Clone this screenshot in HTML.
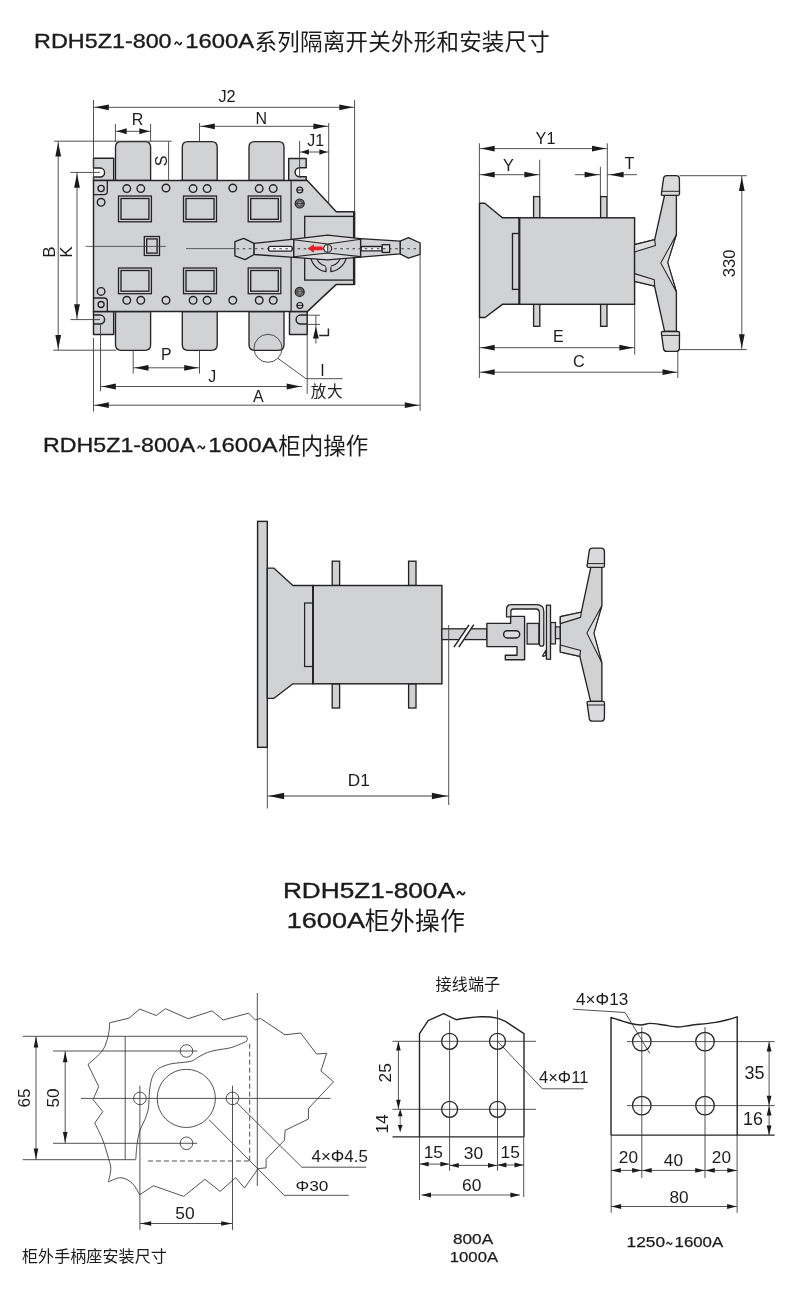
<!DOCTYPE html>
<html><head><meta charset="utf-8"><title>RDH5Z1</title>
<style>
html,body{margin:0;padding:0;background:#fff;}
body{width:790px;height:1289px;overflow:hidden;font-family:"Liberation Sans",sans-serif;}
svg{display:block;}
.sheet{width:790px;height:1289px;will-change:transform;}
svg text{font-family:"Liberation Sans",sans-serif;}
svg text.cjk{font-family:"Liberation Sans","Noto Sans CJK SC",sans-serif;}
</style></head><body>
<div class="sheet">
<svg width="790" height="1289" viewBox="0 0 790 1289">
<text x="34.08" y="48.20" font-size="20.60" fill="#1b1b1b" stroke="#1b1b1b" stroke-width="0.35" textLength="137.53" lengthAdjust="spacingAndGlyphs">RDH5Z1-800</text>
<path d="M175.00,43.97 C176.09,41.42 177.11,41.42 178.20,43.30 S180.31,45.17 181.40,42.62" fill="none" stroke="#1b1b1b" stroke-width="1.60" stroke-linecap="round"/>
<text x="185.19" y="48.20" font-size="20.60" fill="#1b1b1b" stroke="#1b1b1b" stroke-width="0.35" textLength="68.86" lengthAdjust="spacingAndGlyphs">1600A</text>
<text class="cjk" x="254.50" y="50.40" font-size="22.50" fill="#1b1b1b" textLength="295.36" lengthAdjust="spacing">系列隔离开关外形和安装尺寸</text>
<text x="43.00" y="452.20" font-size="20.60" fill="#1b1b1b" stroke="#1b1b1b" stroke-width="0.35" textLength="152.25" lengthAdjust="spacingAndGlyphs">RDH5Z1-800A</text>
<path d="M198.00,447.98 C199.12,445.43 200.18,445.43 201.30,447.30 S203.48,449.18 204.60,446.62" fill="none" stroke="#1b1b1b" stroke-width="1.60" stroke-linecap="round"/>
<text x="208.17" y="452.20" font-size="20.60" fill="#1b1b1b" stroke="#1b1b1b" stroke-width="0.35" textLength="69.37" lengthAdjust="spacingAndGlyphs">1600A</text>
<text class="cjk" x="278.30" y="453.80" font-size="22.50" fill="#1b1b1b" textLength="90.00" lengthAdjust="spacing">柜内操作</text>
<text x="282.95" y="898.40" font-size="22.60" fill="#1b1b1b" stroke="#1b1b1b" stroke-width="0.40" textLength="172.00" lengthAdjust="spacingAndGlyphs">RDH5Z1-800A</text>
<path d="M457.40,893.94 C458.62,891.14 459.78,891.14 461.00,893.20 S463.38,895.26 464.60,892.46" fill="none" stroke="#1b1b1b" stroke-width="1.80" stroke-linecap="round"/>
<text x="286.84" y="927.60" font-size="22.60" fill="#1b1b1b" stroke="#1b1b1b" stroke-width="0.40" textLength="78.11" lengthAdjust="spacingAndGlyphs">1600A</text>
<text class="cjk" x="364.70" y="929.50" font-size="24.70" fill="#1b1b1b" textLength="100.30" lengthAdjust="spacing">柜外操作</text>
<path d="M115.50,180.50 V147.20 Q115.50,141.70 121.00,141.70 H145.10 Q150.60,141.70 150.60,147.20 V180.50 Z" fill="#d1d2d4" stroke="#262324" stroke-width="1.34" stroke-linejoin="round" />
<path d="M115.50,311.60 V344.80 Q115.50,350.30 121.00,350.30 H145.10 Q150.60,350.30 150.60,344.80 V311.60 Z" fill="#d1d2d4" stroke="#262324" stroke-width="1.34" stroke-linejoin="round" />
<path d="M182.30,180.50 V147.20 Q182.30,141.70 187.80,141.70 H211.70 Q217.20,141.70 217.20,147.20 V180.50 Z" fill="#d1d2d4" stroke="#262324" stroke-width="1.34" stroke-linejoin="round" />
<path d="M182.30,311.60 V344.80 Q182.30,350.30 187.80,350.30 H211.70 Q217.20,350.30 217.20,344.80 V311.60 Z" fill="#d1d2d4" stroke="#262324" stroke-width="1.34" stroke-linejoin="round" />
<path d="M249.00,180.50 V147.20 Q249.00,141.70 254.50,141.70 H278.50 Q284.00,141.70 284.00,147.20 V180.50 Z" fill="#d1d2d4" stroke="#262324" stroke-width="1.34" stroke-linejoin="round" />
<path d="M249.00,311.60 V344.80 Q249.00,350.30 254.50,350.30 H278.50 Q284.00,350.30 284.00,344.80 V311.60 Z" fill="#d1d2d4" stroke="#262324" stroke-width="1.34" stroke-linejoin="round" />
<path d="M93.50,158.20 H113.70 V180.50 H93.50 V177.10 H100.10 A4.50,4.50 0 0 0 100.10,168.10 H93.50 Z" fill="#d1d2d4" stroke="#262324" stroke-width="1.46" stroke-linejoin="round" />
<path d="M93.50,334.40 H113.70 V311.60 H93.50 V324.10 H100.10 A4.50,4.50 0 0 0 100.10,315.10 H93.50 Z" fill="#d1d2d4" stroke="#262324" stroke-width="1.46" stroke-linejoin="round" />
<path d="M306.20,158.40 H288.70 V180.50 H306.20 V176.80 H299.60 A4.50,4.50 0 0 1 299.60,167.80 H306.20 Z" fill="#d1d2d4" stroke="#262324" stroke-width="1.46" stroke-linejoin="round" />
<path d="M307.20,334.60 H289.50 V311.60 H307.20 V324.10 H300.60 A4.50,4.50 0 0 1 300.60,315.10 H307.20 Z" fill="#d1d2d4" stroke="#262324" stroke-width="1.46" stroke-linejoin="round" />
<path d="M93.50,180.50 L307.20,180.50 L336.30,211.70 L354.60,211.70 L354.60,284.40 L336.30,284.40 L307.20,311.60 L93.50,311.60 Z" fill="#d1d2d4" stroke="#262324" stroke-width="1.46" stroke-linejoin="round" />
<line x1="291.10" y1="180.50" x2="291.10" y2="311.60" stroke="#262324" stroke-width="1.20" />
<rect x="304.70" y="216.40" width="48.90" height="63.70" rx="0.00" fill="#d1d2d4" stroke="#262324" stroke-width="1.34"/>
<line x1="353.90" y1="211.70" x2="353.90" y2="284.40" stroke="#262324" stroke-width="1.80" />
<circle cx="126.80" cy="188.60" r="3.80" fill="none" stroke="#262324" stroke-width="1.40"/>
<circle cx="140.80" cy="188.60" r="3.80" fill="none" stroke="#262324" stroke-width="1.40"/>
<circle cx="193.10" cy="188.60" r="3.80" fill="none" stroke="#262324" stroke-width="1.40"/>
<circle cx="207.10" cy="188.60" r="3.80" fill="none" stroke="#262324" stroke-width="1.40"/>
<circle cx="259.20" cy="188.60" r="3.80" fill="none" stroke="#262324" stroke-width="1.40"/>
<circle cx="273.20" cy="188.60" r="3.80" fill="none" stroke="#262324" stroke-width="1.40"/>
<circle cx="166.00" cy="188.00" r="3.80" fill="none" stroke="#262324" stroke-width="1.40"/>
<circle cx="232.80" cy="188.00" r="3.80" fill="none" stroke="#262324" stroke-width="1.40"/>
<circle cx="126.80" cy="300.30" r="3.80" fill="none" stroke="#262324" stroke-width="1.40"/>
<circle cx="140.80" cy="300.30" r="3.80" fill="none" stroke="#262324" stroke-width="1.40"/>
<circle cx="193.10" cy="300.30" r="3.80" fill="none" stroke="#262324" stroke-width="1.40"/>
<circle cx="207.10" cy="300.30" r="3.80" fill="none" stroke="#262324" stroke-width="1.40"/>
<circle cx="259.20" cy="300.30" r="3.80" fill="none" stroke="#262324" stroke-width="1.40"/>
<circle cx="273.20" cy="300.30" r="3.80" fill="none" stroke="#262324" stroke-width="1.40"/>
<circle cx="166.00" cy="300.30" r="3.80" fill="none" stroke="#262324" stroke-width="1.40"/>
<circle cx="232.80" cy="300.30" r="3.80" fill="none" stroke="#262324" stroke-width="1.40"/>
<circle cx="101.10" cy="202.30" r="3.80" fill="none" stroke="#262324" stroke-width="1.40"/>
<circle cx="101.10" cy="291.40" r="3.80" fill="none" stroke="#262324" stroke-width="1.40"/>
<circle cx="101.10" cy="188.50" r="3.10" fill="none" stroke="#262324" stroke-width="1.34"/>
<circle cx="101.10" cy="304.50" r="3.00" fill="none" stroke="#262324" stroke-width="1.34"/>
<path d="M93.50,194.6 H104.0 Q107.3,194.6 107.3,191.3 V180.50" fill="none" stroke="#262324" stroke-width="1.34" stroke-linejoin="round" />
<path d="M93.50,298.0 H104.0 Q107.3,298.0 107.3,301.3 V311.60" fill="none" stroke="#262324" stroke-width="1.34" stroke-linejoin="round" />
<rect x="118.50" y="196.00" width="32.90" height="25.80" rx="0.00" fill="#d1d2d4" stroke="#262324" stroke-width="1.29"/>
<rect x="121.00" y="198.50" width="27.90" height="20.80" rx="0.00" fill="#d1d2d4" stroke="#262324" stroke-width="1.34"/>
<rect x="118.50" y="268.00" width="32.90" height="25.70" rx="0.00" fill="#d1d2d4" stroke="#262324" stroke-width="1.29"/>
<rect x="121.00" y="270.50" width="27.90" height="20.70" rx="0.00" fill="#d1d2d4" stroke="#262324" stroke-width="1.34"/>
<rect x="183.50" y="196.00" width="33.00" height="25.80" rx="0.00" fill="#d1d2d4" stroke="#262324" stroke-width="1.29"/>
<rect x="186.00" y="198.50" width="28.00" height="20.80" rx="0.00" fill="#d1d2d4" stroke="#262324" stroke-width="1.34"/>
<rect x="183.50" y="268.00" width="33.00" height="25.70" rx="0.00" fill="#d1d2d4" stroke="#262324" stroke-width="1.29"/>
<rect x="186.00" y="270.50" width="28.00" height="20.70" rx="0.00" fill="#d1d2d4" stroke="#262324" stroke-width="1.34"/>
<rect x="248.20" y="196.00" width="32.60" height="25.80" rx="0.00" fill="#d1d2d4" stroke="#262324" stroke-width="1.29"/>
<rect x="250.70" y="198.50" width="27.60" height="20.80" rx="0.00" fill="#d1d2d4" stroke="#262324" stroke-width="1.34"/>
<rect x="248.20" y="268.00" width="32.60" height="25.70" rx="0.00" fill="#d1d2d4" stroke="#262324" stroke-width="1.29"/>
<rect x="250.70" y="270.50" width="27.60" height="20.70" rx="0.00" fill="#d1d2d4" stroke="#262324" stroke-width="1.34"/>
<rect x="144.30" y="236.50" width="15.20" height="19.00" rx="0.00" fill="#d1d2d4" stroke="#262324" stroke-width="1.29"/>
<rect x="146.70" y="238.90" width="10.40" height="14.20" rx="0.00" fill="#d1d2d4" stroke="#262324" stroke-width="1.34"/>
<line x1="85.60" y1="246.40" x2="165.80" y2="246.40" stroke="#3e3e3e" stroke-width="0.80" />
<line x1="186.00" y1="248.60" x2="235.00" y2="248.60" stroke="#3e3e3e" stroke-width="0.80" />
<circle cx="299.80" cy="190.00" r="2.90" fill="#d1d2d4" stroke="#262324" stroke-width="1.23"/>
<line x1="296.30" y1="190.00" x2="303.30" y2="190.00" stroke="#262324" stroke-width="1.00" />
<circle cx="299.70" cy="203.50" r="4.50" fill="#6e6e70" stroke="#262324" stroke-width="1.23"/>
<circle cx="299.70" cy="203.50" r="2.61" fill="#8f8f91" stroke="#4a4a4a" stroke-width="0.90"/>
<circle cx="299.70" cy="203.50" r="0.99" fill="#bdbdbf" stroke="none" stroke-width="0.00"/>
<line x1="295.20" y1="203.50" x2="304.20" y2="203.50" stroke="#333" stroke-width="0.90" />
<circle cx="299.70" cy="291.90" r="4.50" fill="#6e6e70" stroke="#262324" stroke-width="1.23"/>
<circle cx="299.70" cy="291.90" r="2.61" fill="#8f8f91" stroke="#4a4a4a" stroke-width="0.90"/>
<circle cx="299.70" cy="291.90" r="0.99" fill="#bdbdbf" stroke="none" stroke-width="0.00"/>
<line x1="295.20" y1="291.90" x2="304.20" y2="291.90" stroke="#333" stroke-width="0.90" />
<circle cx="299.90" cy="305.40" r="2.90" fill="#d1d2d4" stroke="#262324" stroke-width="1.23"/>
<line x1="296.40" y1="305.40" x2="303.40" y2="305.40" stroke="#262324" stroke-width="1.00" />
<path d="M310.2,253.60 A18.3,18.3 0 0 0 326.0,271.7 V267.2 M330.8,267.2 V271.7 A18.3,18.3 0 0 0 346.8,253.60" fill="none" stroke="#262324" stroke-width="1.23" stroke-linejoin="round" />
<path d="M315.7,253.60 A12.9,12.9 0 0 0 326.0,266.3 M330.8,266.3 A12.9,12.9 0 0 0 341.3,253.60" fill="none" stroke="#262324" stroke-width="1.12" stroke-linejoin="round" />
<path d="M234.90,241.70 L243.70,238.40 L254.10,243.40 L254.10,254.50 L245.20,259.60 L234.90,255.80 Z" fill="#d1d2d4" stroke="#262324" stroke-width="1.34" stroke-linejoin="round" />
<path d="M400.10,241.20 L408.50,237.70 L420.10,243.00 L420.10,254.40 L408.50,258.20 L400.10,253.90 Z" fill="#d1d2d4" stroke="#262324" stroke-width="1.34" stroke-linejoin="round" />
<path d="M254.10,243.40 L293.90,239.20 L293.90,257.30 L254.10,254.50 Z" fill="#d1d2d4" stroke="#262324" stroke-width="1.34" stroke-linejoin="round" />
<path d="M400.10,241.20 L360.50,238.60 L360.50,257.20 L400.10,253.90 Z" fill="#d1d2d4" stroke="#262324" stroke-width="1.34" stroke-linejoin="round" />
<path d="M293.90,239.20 L327.50,235.20 L360.50,238.60 L360.50,257.20 L327.50,259.80 L293.90,257.30 Z" fill="#dcdcdd" stroke="#262324" stroke-width="1.34" stroke-linejoin="round" />
<path d="M293.90,239.80 L327.60,244.00 L360.50,239.20 L360.50,256.60 L327.60,253.00 L293.90,256.70 Z" fill="#d1d2d4" stroke="#262324" stroke-width="1.12" stroke-linejoin="round" />
<rect x="268.50" y="246.30" width="23.70" height="4.80" rx="1.60" fill="#f4f4f4" stroke="#262324" stroke-width="1.34"/>
<rect x="361.20" y="246.50" width="20.80" height="4.40" rx="1.20" fill="#f4f4f4" stroke="#262324" stroke-width="1.34"/>
<rect x="382.20" y="244.70" width="7.40" height="7.70" rx="0.00" fill="#dedede" stroke="#262324" stroke-width="1.34"/>
<line x1="236.60" y1="248.70" x2="419.40" y2="248.70" stroke="#3a3a3a" stroke-width="1.10" stroke-dasharray="2.5 3.6"/>
<circle cx="327.70" cy="248.40" r="3.90" fill="#cfcfcf" stroke="#262324" stroke-width="1.12"/>
<path d="M327.7,244.5 A3.9,3.9 0 0 0 327.7,252.3 Z" fill="#f3f3f3" stroke="#262324" stroke-width="0.9"/>
<path d="M307.4,248.4 L313.9,244.2 L313.9,246.6 L322.4,246.6 L322.4,250.3 L313.9,250.3 L313.9,252.7 Z" fill="#e8202a"/>
<line x1="93.50" y1="100.00" x2="93.50" y2="180.00" stroke="#3e3e3e" stroke-width="0.90" />
<line x1="354.60" y1="100.00" x2="354.60" y2="211.70" stroke="#3e3e3e" stroke-width="0.90" />
<line x1="93.50" y1="107.30" x2="354.60" y2="107.30" stroke="#3e3e3e" stroke-width="0.90" />
<path d="M94.80,107.30 L108.80,104.40 L108.80,110.20 Z" fill="#1a1a1a"/>
<path d="M353.30,107.30 L339.30,110.20 L339.30,104.40 Z" fill="#1a1a1a"/>
<text x="227.00" y="102.11" font-size="16.30" text-anchor="middle" fill="#1c1c1c" >J2</text>
<line x1="115.40" y1="124.00" x2="115.40" y2="141.70" stroke="#3e3e3e" stroke-width="0.90" />
<line x1="150.60" y1="124.00" x2="150.60" y2="141.70" stroke="#3e3e3e" stroke-width="0.90" />
<line x1="115.40" y1="131.30" x2="150.60" y2="131.30" stroke="#3e3e3e" stroke-width="0.90" />
<path d="M116.70,131.30 L126.70,128.30 L126.70,134.30 Z" fill="#1a1a1a"/>
<path d="M149.30,131.30 L139.30,134.30 L139.30,128.30 Z" fill="#1a1a1a"/>
<text x="137.50" y="124.50" font-size="16.00" text-anchor="middle" fill="#1c1c1c" >R</text>
<line x1="199.50" y1="123.00" x2="199.50" y2="141.70" stroke="#3e3e3e" stroke-width="0.90" />
<line x1="328.70" y1="123.00" x2="328.70" y2="204.00" stroke="#3e3e3e" stroke-width="0.90" />
<line x1="199.50" y1="126.30" x2="328.70" y2="126.30" stroke="#3e3e3e" stroke-width="0.90" />
<path d="M200.80,126.30 L214.80,123.40 L214.80,129.20 Z" fill="#1a1a1a"/>
<path d="M327.40,126.30 L313.40,129.20 L313.40,123.40 Z" fill="#1a1a1a"/>
<text x="261.30" y="124.10" font-size="16.00" text-anchor="middle" fill="#1c1c1c" >N</text>
<line x1="299.60" y1="141.00" x2="299.60" y2="177.40" stroke="#3e3e3e" stroke-width="0.90" />
<line x1="299.60" y1="152.00" x2="328.70" y2="152.00" stroke="#3e3e3e" stroke-width="0.90" />
<path d="M300.90,152.00 L308.90,149.30 L308.90,154.70 Z" fill="#1a1a1a"/>
<path d="M327.40,152.00 L319.40,154.70 L319.40,149.30 Z" fill="#1a1a1a"/>
<text x="315.80" y="146.10" font-size="16.00" text-anchor="middle" fill="#1c1c1c" >J1</text>
<line x1="168.60" y1="141.20" x2="168.60" y2="180.60" stroke="#3e3e3e" stroke-width="0.90" />
<text x="161.20" y="166.50" font-size="16.00" text-anchor="middle" fill="#1c1c1c" transform="rotate(-90 161.20 161.00)" >S</text>
<line x1="54.00" y1="141.20" x2="171.60" y2="141.20" stroke="#3e3e3e" stroke-width="0.90" />
<line x1="53.20" y1="350.20" x2="116.00" y2="350.20" stroke="#3e3e3e" stroke-width="0.90" />
<line x1="58.20" y1="141.20" x2="58.20" y2="350.20" stroke="#3e3e3e" stroke-width="0.90" />
<path d="M58.20,142.50 L61.10,156.50 L55.30,156.50 Z" fill="#1a1a1a"/>
<path d="M58.20,348.90 L55.30,334.90 L61.10,334.90 Z" fill="#1a1a1a"/>
<text x="49.20" y="257.85" font-size="17.00" text-anchor="middle" fill="#1c1c1c" transform="rotate(-90 49.20 252.00)" >B</text>
<line x1="70.40" y1="172.40" x2="100.00" y2="172.40" stroke="#3e3e3e" stroke-width="0.90" />
<line x1="70.40" y1="319.60" x2="100.00" y2="319.60" stroke="#3e3e3e" stroke-width="0.90" />
<line x1="77.00" y1="172.40" x2="77.00" y2="319.60" stroke="#3e3e3e" stroke-width="0.90" />
<path d="M77.00,173.70 L79.90,187.70 L74.10,187.70 Z" fill="#1a1a1a"/>
<path d="M77.00,318.30 L74.10,304.30 L79.90,304.30 Z" fill="#1a1a1a"/>
<text x="66.00" y="258.05" font-size="17.00" text-anchor="middle" fill="#1c1c1c" transform="rotate(-90 66.00 252.20)" >K</text>
<line x1="133.20" y1="350.30" x2="133.20" y2="373.60" stroke="#3e3e3e" stroke-width="0.90" />
<line x1="199.50" y1="350.30" x2="199.50" y2="373.60" stroke="#3e3e3e" stroke-width="0.90" />
<line x1="133.20" y1="367.80" x2="199.50" y2="367.80" stroke="#3e3e3e" stroke-width="0.90" />
<path d="M134.50,367.80 L148.50,364.90 L148.50,370.70 Z" fill="#1a1a1a"/>
<path d="M198.20,367.80 L184.20,370.70 L184.20,364.90 Z" fill="#1a1a1a"/>
<text x="166.20" y="360.34" font-size="15.80" text-anchor="middle" fill="#1c1c1c" >P</text>
<line x1="100.50" y1="325.00" x2="100.50" y2="391.30" stroke="#3e3e3e" stroke-width="0.90" />
<line x1="100.50" y1="386.50" x2="302.00" y2="386.50" stroke="#3e3e3e" stroke-width="0.90" />
<path d="M101.80,386.50 L115.80,383.60 L115.80,389.40 Z" fill="#1a1a1a"/>
<path d="M300.70,386.50 L286.70,389.40 L286.70,383.60 Z" fill="#1a1a1a"/>
<text x="212.30" y="382.20" font-size="16.00" text-anchor="middle" fill="#1c1c1c" >J</text>
<line x1="93.50" y1="338.00" x2="93.50" y2="411.60" stroke="#3e3e3e" stroke-width="0.90" />
<line x1="420.10" y1="254.40" x2="420.10" y2="410.80" stroke="#3e3e3e" stroke-width="0.90" />
<line x1="93.50" y1="405.20" x2="420.10" y2="405.20" stroke="#3e3e3e" stroke-width="0.90" />
<path d="M94.80,405.20 L108.80,402.30 L108.80,408.10 Z" fill="#1a1a1a"/>
<path d="M418.80,405.20 L404.80,408.10 L404.80,402.30 Z" fill="#1a1a1a"/>
<text x="258.30" y="401.50" font-size="16.00" text-anchor="middle" fill="#1c1c1c" >A</text>
<line x1="307.20" y1="315.20" x2="320.00" y2="315.20" stroke="#3e3e3e" stroke-width="0.90" />
<line x1="307.20" y1="324.40" x2="320.00" y2="324.40" stroke="#3e3e3e" stroke-width="0.90" />
<line x1="315.90" y1="315.20" x2="315.90" y2="343.50" stroke="#3e3e3e" stroke-width="0.90" />
<path d="M315.90,326.40 L318.80,338.40 L313.00,338.40 Z" fill="#1a1a1a"/>
<path d="M319.2,335.5 H328.4 V328.6" fill="none" stroke="#262324" stroke-width="1.46" stroke-linejoin="round" />
<circle cx="268.00" cy="348.30" r="14.00" fill="none" stroke="#3e3e3e" stroke-width="0.90"/>
<line x1="278.00" y1="358.40" x2="306.00" y2="378.70" stroke="#3e3e3e" stroke-width="0.90" />
<line x1="306.00" y1="378.70" x2="342.70" y2="378.70" stroke="#3e3e3e" stroke-width="0.90" />
<line x1="307.20" y1="334.40" x2="307.20" y2="393.90" stroke="#3e3e3e" stroke-width="0.90" />
<text x="322.50" y="375.60" font-size="16.00" text-anchor="middle" fill="#1c1c1c" >I</text>
<text class="cjk" x="310.80" y="396.80" font-size="15.60" fill="#222" textLength="31.80" lengthAdjust="spacing">放大</text>
<rect x="533.60" y="196.60" width="6.20" height="21.20" rx="0.00" fill="#d1d2d4" stroke="#262324" stroke-width="1.34"/>
<rect x="533.60" y="304.30" width="6.20" height="22.00" rx="0.00" fill="#d1d2d4" stroke="#262324" stroke-width="1.34"/>
<rect x="600.60" y="196.60" width="6.40" height="21.20" rx="0.00" fill="#d1d2d4" stroke="#262324" stroke-width="1.34"/>
<rect x="600.60" y="304.30" width="6.40" height="22.00" rx="0.00" fill="#d1d2d4" stroke="#262324" stroke-width="1.34"/>
<path d="M479.50,203.20 L484.80,203.20 L502.40,217.80 L519.40,217.80 L519.40,304.30 L502.40,304.30 L485.00,317.50 L479.50,317.50 Z" fill="#d1d2d4" stroke="#262324" stroke-width="1.46" stroke-linejoin="round" />
<rect x="512.50" y="233.50" width="6.90" height="55.90" rx="0.00" fill="#d1d2d4" stroke="#262324" stroke-width="1.34"/>
<rect x="519.40" y="217.80" width="115.20" height="86.50" rx="0.00" fill="#d1d2d4" stroke="#262324" stroke-width="1.46"/>
<line x1="519.40" y1="217.80" x2="519.40" y2="304.30" stroke="#262324" stroke-width="1.80" />
<path d="M634.60,244.60 L654.70,239.60 L664.60,195.00 L676.40,195.00 L676.40,234.50 L667.60,262.40 L676.40,291.80 L676.40,331.40 L664.60,331.40 L654.50,286.00 L634.60,281.40 Z" fill="#d1d2d4" stroke="#262324" stroke-width="1.34" stroke-linejoin="round" />
<path d="M676.20,234.90 L660.80,263.00 L676.20,291.40 L667.60,262.40 Z" fill="#dededf" stroke="#262324" stroke-width="1.01" stroke-linejoin="round" />
<path d="M634.60,244.60 L654.70,239.60 L655.40,245.50 L634.60,252.00 Z" fill="#dededf" stroke="#262324" stroke-width="1.12" stroke-linejoin="round" />
<path d="M634.60,273.60 L654.30,279.70 L654.60,286.00 L634.60,281.40 Z" fill="#dededf" stroke="#262324" stroke-width="1.12" stroke-linejoin="round" />
<path d="M662.80,195.40 Q661.20,195.40 661.40,193.80 L663.50,178.60 Q663.70,175.60 666.90,175.60 H676.10 Q679.20,175.60 679.40,178.60 L679.50,193.80 Q679.50,195.40 677.90,195.40 Z" fill="#dadadc" stroke="#262324" stroke-width="1.34" stroke-linejoin="round" />
<line x1="661.80" y1="191.30" x2="679.20" y2="191.30" stroke="#262324" stroke-width="1.00" />
<path d="M662.80,331.50 Q661.20,331.50 661.40,333.10 L663.50,348.40 Q663.70,351.40 666.90,351.40 H676.10 Q679.20,351.40 679.40,348.40 L679.50,333.10 Q679.50,331.50 677.90,331.50 Z" fill="#dadadc" stroke="#262324" stroke-width="1.34" stroke-linejoin="round" />
<line x1="661.80" y1="335.40" x2="679.20" y2="335.40" stroke="#262324" stroke-width="1.00" />
<line x1="479.40" y1="143.30" x2="479.40" y2="203.00" stroke="#3e3e3e" stroke-width="0.90" />
<line x1="607.30" y1="143.30" x2="607.30" y2="196.00" stroke="#3e3e3e" stroke-width="0.90" />
<line x1="479.40" y1="148.60" x2="607.30" y2="148.60" stroke="#3e3e3e" stroke-width="0.90" />
<path d="M480.70,148.60 L494.70,145.70 L494.70,151.50 Z" fill="#1a1a1a"/>
<path d="M606.00,148.60 L592.00,151.50 L592.00,145.70 Z" fill="#1a1a1a"/>
<text x="545.50" y="144.27" font-size="16.20" text-anchor="middle" fill="#1c1c1c" >Y1</text>
<line x1="539.70" y1="159.70" x2="539.70" y2="196.00" stroke="#3e3e3e" stroke-width="0.90" />
<line x1="479.40" y1="174.70" x2="539.70" y2="174.70" stroke="#3e3e3e" stroke-width="0.90" />
<path d="M480.70,174.70 L494.70,171.80 L494.70,177.60 Z" fill="#1a1a1a"/>
<path d="M538.40,174.70 L524.40,177.60 L524.40,171.80 Z" fill="#1a1a1a"/>
<text x="508.30" y="170.57" font-size="16.20" text-anchor="middle" fill="#1c1c1c" >Y</text>
<line x1="600.40" y1="166.80" x2="600.40" y2="196.00" stroke="#3e3e3e" stroke-width="0.90" />
<line x1="575.00" y1="174.70" x2="600.40" y2="174.70" stroke="#3e3e3e" stroke-width="0.90" />
<path d="M598.60,174.70 L584.60,177.60 L584.60,171.80 Z" fill="#1a1a1a"/>
<line x1="607.30" y1="174.70" x2="637.00" y2="174.70" stroke="#3e3e3e" stroke-width="0.90" />
<path d="M609.60,174.70 L623.60,171.80 L623.60,177.60 Z" fill="#1a1a1a"/>
<text x="629.40" y="168.57" font-size="16.20" text-anchor="middle" fill="#1c1c1c" >T</text>
<line x1="679.50" y1="175.70" x2="746.80" y2="175.70" stroke="#3e3e3e" stroke-width="0.90" />
<line x1="679.50" y1="349.60" x2="746.80" y2="349.60" stroke="#3e3e3e" stroke-width="0.90" />
<line x1="741.80" y1="175.70" x2="741.80" y2="349.60" stroke="#3e3e3e" stroke-width="0.90" />
<path d="M741.80,177.00 L744.70,191.00 L738.90,191.00 Z" fill="#1a1a1a"/>
<path d="M741.80,348.30 L738.90,334.30 L744.70,334.30 Z" fill="#1a1a1a"/>
<text x="729.20" y="269.01" font-size="16.60" text-anchor="middle" fill="#1c1c1c" transform="rotate(-90 729.20 263.30)" >330</text>
<line x1="479.40" y1="317.80" x2="479.40" y2="378.00" stroke="#3e3e3e" stroke-width="0.90" />
<line x1="634.70" y1="304.60" x2="634.70" y2="354.50" stroke="#3e3e3e" stroke-width="0.90" />
<line x1="479.40" y1="347.70" x2="634.70" y2="347.70" stroke="#3e3e3e" stroke-width="0.90" />
<path d="M480.70,347.70 L494.70,344.80 L494.70,350.60 Z" fill="#1a1a1a"/>
<path d="M633.40,347.70 L619.40,350.60 L619.40,344.80 Z" fill="#1a1a1a"/>
<text x="558.40" y="342.10" font-size="16.00" text-anchor="middle" fill="#1c1c1c" >E</text>
<line x1="677.80" y1="351.50" x2="677.80" y2="378.00" stroke="#3e3e3e" stroke-width="0.90" />
<line x1="479.40" y1="372.20" x2="677.80" y2="372.20" stroke="#3e3e3e" stroke-width="0.90" />
<path d="M480.70,372.20 L494.70,369.30 L494.70,375.10 Z" fill="#1a1a1a"/>
<path d="M676.50,372.20 L662.50,375.10 L662.50,369.30 Z" fill="#1a1a1a"/>
<text x="578.90" y="367.37" font-size="16.20" text-anchor="middle" fill="#1c1c1c" >C</text>
<rect x="257.60" y="521.40" width="9.70" height="225.90" rx="0.00" fill="#d1d2d4" stroke="#262324" stroke-width="1.46"/>
<rect x="332.20" y="561.20" width="7.40" height="24.30" rx="0.00" fill="#d1d2d4" stroke="#262324" stroke-width="1.34"/>
<rect x="332.20" y="683.80" width="7.40" height="24.20" rx="0.00" fill="#d1d2d4" stroke="#262324" stroke-width="1.34"/>
<rect x="408.60" y="561.20" width="7.40" height="24.30" rx="0.00" fill="#d1d2d4" stroke="#262324" stroke-width="1.34"/>
<rect x="408.60" y="683.80" width="7.40" height="24.20" rx="0.00" fill="#d1d2d4" stroke="#262324" stroke-width="1.34"/>
<path d="M267.30,568.20 L274.00,568.20 L292.90,585.50 L313.00,585.50 L313.00,683.80 L292.90,683.80 L274.00,698.30 L267.30,698.30 Z" fill="#d1d2d4" stroke="#262324" stroke-width="1.34" stroke-linejoin="round" />
<rect x="304.60" y="603.00" width="8.40" height="63.50" rx="0.00" fill="#d1d2d4" stroke="#262324" stroke-width="1.23"/>
<rect x="313.00" y="585.50" width="128.90" height="98.30" rx="0.00" fill="#d1d2d4" stroke="#262324" stroke-width="1.46"/>
<line x1="313.00" y1="585.50" x2="313.00" y2="683.80" stroke="#262324" stroke-width="1.80" />
<rect x="441.90" y="628.80" width="45.00" height="10.80" rx="0.00" fill="#d1d2d4" stroke="#262324" stroke-width="1.29"/>
<path d="M453.9,647.2 L469.0,624.9 L473.8,624.9 L458.8,647.2 Z" fill="#fff" stroke="none"/>
<line x1="453.90" y1="647.20" x2="469.00" y2="624.90" stroke="#262324" stroke-width="1.50" />
<line x1="458.80" y1="647.20" x2="473.80" y2="624.60" stroke="#262324" stroke-width="1.50" />
<rect x="527.10" y="623.40" width="11.80" height="20.70" rx="0.00" fill="#d1d2d4" stroke="#262324" stroke-width="1.29"/>
<path d="M486.90,623.40 L510.60,623.40 L510.60,616.40 L524.60,616.40 L524.60,659.80 L505.30,659.80 L505.30,655.30 L517.00,655.30 L517.00,646.60 L486.90,646.60 Z" fill="#d1d2d4" stroke="#262324" stroke-width="1.40" stroke-linejoin="round" />
<rect x="503.60" y="630.70" width="16.10" height="7.20" rx="3.60" fill="#dcdcde" stroke="#262324" stroke-width="1.46"/>
<path d="M506.5,616.8 V609.6 Q506.5,604.6 511.5,604.6 H536.8 Q543.8,604.6 543.8,611.6 V643.9 A2.2,2.2 0 0 1 539.4,643.9 V612.8 Q539.4,609.0 535.6,609.0 H513.4 Q510.9,609.0 510.9,611.5 V616.8 Z" fill="#dadadc" stroke="#262324" stroke-width="1.29" stroke-linejoin="round" />
<path d="M542.40,656.00 L545.90,650.40 L545.90,655.40 L543.40,656.40 Z" fill="#fff" stroke="#262324" stroke-width="1.23" stroke-linejoin="round" />
<rect x="546.40" y="605.20" width="4.10" height="54.00" rx="0.00" fill="#d1d2d4" stroke="#262324" stroke-width="1.29"/>
<rect x="550.80" y="622.50" width="4.70" height="21.40" rx="0.00" fill="#d1d2d4" stroke="#262324" stroke-width="1.23"/>
<rect x="555.50" y="626.90" width="4.80" height="11.80" rx="0.00" fill="#d1d2d4" stroke="#262324" stroke-width="1.23"/>
<path d="M560.30,616.60 L581.30,612.20 L590.80,567.30 L601.90,567.30 L601.90,605.60 L593.80,633.10 L601.90,663.00 L601.90,701.30 L590.60,701.30 L579.80,656.40 L560.30,652.00 Z" fill="#d1d2d4" stroke="#262324" stroke-width="1.34" stroke-linejoin="round" />
<path d="M601.70,606.00 L586.90,633.10 L601.70,662.60 L593.80,633.10 Z" fill="#dededf" stroke="#262324" stroke-width="1.01" stroke-linejoin="round" />
<path d="M560.30,616.60 L581.30,612.20 L580.60,617.40 L560.30,623.60 Z" fill="#dededf" stroke="#262324" stroke-width="1.12" stroke-linejoin="round" />
<path d="M560.30,645.00 L580.60,650.50 L579.80,656.40 L560.30,652.00 Z" fill="#dededf" stroke="#262324" stroke-width="1.12" stroke-linejoin="round" />
<path d="M588.50,567.30 Q586.90,567.30 587.10,565.70 L589.20,551.10 Q589.40,548.10 592.60,548.10 H601.10 Q604.20,548.10 604.40,551.10 L604.50,565.70 Q604.50,567.30 602.90,567.30 Z" fill="#dadadc" stroke="#262324" stroke-width="1.34" stroke-linejoin="round" />
<line x1="587.50" y1="563.60" x2="604.20" y2="563.60" stroke="#262324" stroke-width="1.00" />
<path d="M588.50,701.30 Q586.90,701.30 587.10,702.90 L589.20,718.20 Q589.40,721.20 592.60,721.20 H601.10 Q604.20,721.20 604.40,718.20 L604.50,702.90 Q604.50,701.30 602.90,701.30 Z" fill="#dadadc" stroke="#262324" stroke-width="1.34" stroke-linejoin="round" />
<line x1="587.50" y1="705.00" x2="604.20" y2="705.00" stroke="#262324" stroke-width="1.00" />
<line x1="267.30" y1="747.30" x2="267.30" y2="808.50" stroke="#3e3e3e" stroke-width="0.90" />
<line x1="448.70" y1="625.00" x2="448.70" y2="805.00" stroke="#3e3e3e" stroke-width="0.90" />
<line x1="267.30" y1="796.00" x2="448.70" y2="796.00" stroke="#3e3e3e" stroke-width="1.00" />
<path d="M268.60,796.00 L284.10,792.70 L284.10,799.30 Z" fill="#1a1a1a"/>
<path d="M447.40,796.00 L431.90,799.30 L431.90,792.70 Z" fill="#1a1a1a"/>
<text x="358.80" y="786.32" font-size="17.20" text-anchor="middle" fill="#1c1c1c" >D1</text>
<path d="M109.60,1022.80 C109.42,1024.70 109.63,1029.65 108.50,1034.20 C107.37,1038.75 106.22,1045.05 102.80,1050.10 C99.38,1055.15 90.47,1062.10 88.00,1064.50 L98.70,1086.60 L93.00,1099.60 L102.80,1111.60 L94.80,1123.00 C96.13,1125.85 100.52,1134.20 102.80,1140.10 C105.08,1146.00 107.17,1153.65 108.50,1158.40 C109.83,1163.15 110.80,1164.70 110.80,1168.60 C110.80,1172.50 108.88,1179.60 108.50,1181.80 C110.58,1181.12 117.02,1177.43 121.00,1177.70 C124.98,1177.97 129.28,1180.55 132.40,1183.40 C135.52,1186.25 138.48,1192.90 139.70,1194.80 L153.40,1185.70 L183.70,1196.40 L204.90,1179.30 L220.10,1191.40 L235.60,1177.70 L244.50,1188.00 L258.10,1168.70 L266.10,1167.80 L266.10,1159.20 L284.50,1140.20 L285.10,1130.40 L308.40,1119.00 L308.40,1108.90 L311.60,1105.10 L333.50,1081.80 L320.90,1071.00 L326.70,1053.30 L316.60,1054.00 L300.60,1033.00 L285.00,1034.80 L260.40,1018.40 L255.40,1020.00 L248.60,1013.20 L223.10,1020.00 L212.10,1010.90 L188.20,1018.70 L165.40,1008.70 L156.30,1015.50 L139.70,1009.10 L129.00,1018.20 Z" fill="none" stroke="#333" stroke-width="0.85" stroke-linejoin="round" />
<path d="M246.30,1036.30 C246.42,1037.02 248.13,1039.25 247.00,1040.60 C245.87,1041.95 242.27,1043.20 239.50,1044.40 C236.73,1045.60 234.20,1046.85 230.40,1047.80 C226.60,1048.75 220.50,1049.33 216.70,1050.10 C212.90,1050.87 210.63,1051.25 207.60,1052.40 C204.57,1053.55 201.17,1055.55 198.50,1057.00 C195.83,1058.45 194.63,1060.15 191.60,1061.10 C188.57,1062.05 183.72,1062.25 180.30,1062.70 C176.88,1063.15 174.15,1063.12 171.10,1063.80 C168.05,1064.48 164.47,1065.67 162.00,1066.80 C159.53,1067.93 158.00,1068.63 156.30,1070.60 C154.60,1072.57 152.93,1075.18 151.80,1078.60 C150.67,1082.02 150.07,1086.17 149.50,1091.10 C148.93,1096.03 149.17,1103.45 148.40,1108.20 C147.63,1112.95 146.35,1115.80 144.90,1119.60 C143.45,1123.40 141.02,1126.82 139.70,1131.00 C138.38,1135.18 137.65,1139.97 137.00,1144.70 C136.35,1149.43 136.00,1156.95 135.80,1159.40" fill="none" stroke="#333" stroke-width="0.85" stroke-linejoin="round" />
<line x1="22.70" y1="1036.30" x2="246.20" y2="1036.30" stroke="#333" stroke-width="0.85" />
<line x1="22.70" y1="1159.70" x2="135.80" y2="1159.70" stroke="#333" stroke-width="0.85" />
<line x1="53.00" y1="1051.00" x2="197.30" y2="1051.00" stroke="#333" stroke-width="0.85" />
<line x1="53.00" y1="1143.30" x2="197.30" y2="1143.30" stroke="#333" stroke-width="0.85" />
<line x1="125.20" y1="1036.30" x2="125.20" y2="1159.70" stroke="#333" stroke-width="0.85" />
<line x1="80.90" y1="1098.40" x2="330.50" y2="1098.40" stroke="#333" stroke-width="0.85" />
<line x1="139.90" y1="1085.70" x2="139.90" y2="1230.00" stroke="#333" stroke-width="0.85" />
<line x1="232.50" y1="1085.70" x2="232.50" y2="1230.00" stroke="#333" stroke-width="0.85" />
<line x1="257.30" y1="993.00" x2="257.30" y2="1186.00" stroke="#333" stroke-width="0.85" />
<line x1="249.70" y1="1043.70" x2="249.70" y2="1160.60" stroke="#333" stroke-width="0.85" stroke-dasharray="5 3"/>
<line x1="148.00" y1="1161.00" x2="249.70" y2="1161.00" stroke="#333" stroke-width="0.85" stroke-dasharray="5 3"/>
<circle cx="186.50" cy="1051.00" r="6.30" fill="none" stroke="#333" stroke-width="0.85"/>
<circle cx="139.90" cy="1098.40" r="6.30" fill="none" stroke="#333" stroke-width="0.85"/>
<circle cx="232.50" cy="1098.40" r="6.30" fill="none" stroke="#333" stroke-width="0.85"/>
<circle cx="186.50" cy="1143.30" r="6.30" fill="none" stroke="#333" stroke-width="0.85"/>
<circle cx="186.30" cy="1098.40" r="29.10" fill="none" stroke="#333" stroke-width="0.85"/>
<line x1="36.00" y1="1036.30" x2="36.00" y2="1159.70" stroke="#3e3e3e" stroke-width="0.90" />
<path d="M36.00,1036.60 L38.30,1047.60 L33.70,1047.60 Z" fill="#1a1a1a"/>
<path d="M36.00,1159.40 L33.70,1148.40 L38.30,1148.40 Z" fill="#1a1a1a"/>
<text x="24.50" y="1103.92" font-size="17.20" text-anchor="middle" fill="#1c1c1c" transform="rotate(-90 24.50 1098.00)" >65</text>
<line x1="65.20" y1="1051.00" x2="65.20" y2="1143.30" stroke="#3e3e3e" stroke-width="0.90" />
<path d="M65.20,1051.30 L67.50,1062.30 L62.90,1062.30 Z" fill="#1a1a1a"/>
<path d="M65.20,1143.00 L62.90,1132.00 L67.50,1132.00 Z" fill="#1a1a1a"/>
<text x="52.80" y="1103.92" font-size="17.20" text-anchor="middle" fill="#1c1c1c" transform="rotate(-90 52.80 1098.00)" >50</text>
<line x1="139.90" y1="1223.50" x2="232.50" y2="1223.50" stroke="#3e3e3e" stroke-width="0.90" />
<path d="M140.20,1223.50 L151.20,1221.20 L151.20,1225.80 Z" fill="#1a1a1a"/>
<path d="M232.20,1223.50 L221.20,1225.80 L221.20,1221.20 Z" fill="#1a1a1a"/>
<text x="185.00" y="1219.19" font-size="17.40" text-anchor="middle" fill="#1c1c1c" >50</text>
<line x1="236.80" y1="1102.70" x2="301.80" y2="1167.20" stroke="#333" stroke-width="0.85" />
<line x1="301.80" y1="1167.20" x2="366.30" y2="1167.20" stroke="#333" stroke-width="0.85" />
<text x="311.61" y="1162.10" font-size="15.70" fill="#1c1c1c" textLength="56.20" lengthAdjust="spacingAndGlyphs">4×Φ4.5</text>
<line x1="209.00" y1="1119.70" x2="284.10" y2="1195.30" stroke="#333" stroke-width="0.85" />
<line x1="284.10" y1="1195.30" x2="348.70" y2="1195.30" stroke="#333" stroke-width="0.85" />
<text x="295.51" y="1190.60" font-size="15.40" fill="#1c1c1c" textLength="32.96" lengthAdjust="spacingAndGlyphs">Φ30</text>
<text class="cjk" x="21.90" y="1261.90" font-size="16.00" fill="#1b1b1b" textLength="144.96" lengthAdjust="spacing">柜外手柄座安装尺寸</text>
<text class="cjk" x="435.60" y="990.00" font-size="16.10" fill="#1b1b1b" textLength="64.55" lengthAdjust="spacing">接线端子</text>
<path d="M419.5,1136.8 V1033.7 L428.1,1020.6 L443.7,1013.7 L456.1,1019.7 Q470,1017.2 480.8,1016.8 Q490,1016.6 497.2,1018.1 Q501.5,1019.4 505.4,1021.4 L524.0,1033.7 V1136.8" fill="none" stroke="#262324" stroke-width="1.40" stroke-linejoin="round" />
<line x1="392.50" y1="1136.80" x2="524.20" y2="1136.80" stroke="#262324" stroke-width="1.30" />
<circle cx="449.60" cy="1041.30" r="8.00" fill="none" stroke="#262324" stroke-width="1.30"/>
<circle cx="449.60" cy="1109.30" r="8.00" fill="none" stroke="#262324" stroke-width="1.30"/>
<circle cx="497.50" cy="1041.30" r="8.00" fill="none" stroke="#262324" stroke-width="1.30"/>
<circle cx="497.50" cy="1109.30" r="8.00" fill="none" stroke="#262324" stroke-width="1.30"/>
<line x1="392.50" y1="1041.30" x2="536.00" y2="1041.30" stroke="#333" stroke-width="0.85" />
<line x1="392.50" y1="1109.30" x2="536.00" y2="1109.30" stroke="#333" stroke-width="0.85" />
<line x1="449.60" y1="1020.50" x2="449.60" y2="1170.80" stroke="#333" stroke-width="0.85" />
<line x1="497.50" y1="1010.00" x2="497.50" y2="1170.80" stroke="#333" stroke-width="0.85" />
<line x1="419.50" y1="1136.80" x2="419.50" y2="1200.00" stroke="#333" stroke-width="0.85" />
<line x1="523.70" y1="1136.80" x2="523.70" y2="1197.00" stroke="#333" stroke-width="0.85" />
<line x1="398.40" y1="1041.30" x2="398.40" y2="1109.00" stroke="#3e3e3e" stroke-width="0.90" />
<path d="M398.40,1041.60 L400.70,1050.60 L396.10,1050.60 Z" fill="#1a1a1a"/>
<path d="M398.40,1108.70 L396.10,1099.70 L400.70,1099.70 Z" fill="#1a1a1a"/>
<text x="385.50" y="1078.79" font-size="17.40" text-anchor="middle" fill="#1c1c1c" transform="rotate(-90 385.50 1072.80)" >25</text>
<line x1="400.20" y1="1109.50" x2="400.20" y2="1131.80" stroke="#3e3e3e" stroke-width="0.70" />
<path d="M400.20,1109.50 L402.60,1116.30 L397.80,1116.30 Z" fill="#1a1a1a"/>
<path d="M400.20,1131.80 L397.80,1125.00 L402.60,1125.00 Z" fill="#1a1a1a"/>
<text x="381.60" y="1129.89" font-size="17.40" text-anchor="middle" fill="#1c1c1c" transform="rotate(-90 381.60 1123.90)" >14</text>
<line x1="419.50" y1="1164.10" x2="449.50" y2="1164.10" stroke="#3e3e3e" stroke-width="0.90" />
<path d="M419.80,1164.10 L428.60,1161.70 L428.60,1166.50 Z" fill="#1a1a1a"/>
<path d="M449.20,1164.10 L440.40,1166.50 L440.40,1161.70 Z" fill="#1a1a1a"/>
<line x1="449.50" y1="1165.40" x2="497.30" y2="1165.40" stroke="#3e3e3e" stroke-width="0.90" />
<path d="M449.80,1165.40 L458.80,1163.00 L458.80,1167.80 Z" fill="#1a1a1a"/>
<path d="M497.00,1165.40 L488.00,1167.80 L488.00,1163.00 Z" fill="#1a1a1a"/>
<line x1="497.30" y1="1165.00" x2="523.60" y2="1165.00" stroke="#3e3e3e" stroke-width="0.90" />
<path d="M497.60,1165.00 L506.40,1162.60 L506.40,1167.40 Z" fill="#1a1a1a"/>
<path d="M523.30,1165.00 L514.50,1167.40 L514.50,1162.60 Z" fill="#1a1a1a"/>
<text x="433.30" y="1157.99" font-size="17.40" text-anchor="middle" fill="#1c1c1c" >15</text>
<text x="473.50" y="1158.99" font-size="17.40" text-anchor="middle" fill="#1c1c1c" >30</text>
<text x="510.20" y="1157.99" font-size="17.40" text-anchor="middle" fill="#1c1c1c" >15</text>
<line x1="421.50" y1="1195.00" x2="519.90" y2="1195.00" stroke="#3e3e3e" stroke-width="0.85" />
<path d="M421.50,1195.00 L431.00,1192.60 L431.00,1197.40 Z" fill="#1a1a1a"/>
<path d="M519.90,1195.00 L510.40,1197.40 L510.40,1192.60 Z" fill="#1a1a1a"/>
<text x="471.70" y="1190.89" font-size="17.40" text-anchor="middle" fill="#1c1c1c" >60</text>
<line x1="497.50" y1="1041.30" x2="542.40" y2="1088.80" stroke="#333" stroke-width="0.85" />
<line x1="542.40" y1="1088.80" x2="583.60" y2="1088.80" stroke="#333" stroke-width="0.85" />
<text x="538.93" y="1082.60" font-size="16.40" fill="#1c1c1c" textLength="49.46" lengthAdjust="spacingAndGlyphs">4×Φ11</text>
<text x="452.95" y="1243.60" font-size="15.30" fill="#1b1b1b" stroke="#1b1b1b" stroke-width="0.25" textLength="40.18" lengthAdjust="spacingAndGlyphs">800A</text>
<text x="449.83" y="1262.30" font-size="15.30" fill="#1b1b1b" stroke="#1b1b1b" stroke-width="0.25" textLength="48.20" lengthAdjust="spacingAndGlyphs">1000A</text>
<path d="M611.0,1135.2 V1017.5  C614.10,1018.45 624.60,1021.95 629.60,1023.20 C634.60,1024.45 637.58,1024.97 641.00,1025.00 C644.42,1025.03 646.30,1023.40 650.10,1023.40 C653.90,1023.40 659.23,1024.40 663.80,1025.00 C668.37,1025.60 672.95,1026.97 677.50,1027.00 C682.05,1027.03 685.03,1025.93 691.10,1025.20 C697.17,1024.47 707.82,1023.50 713.90,1022.60 C719.98,1021.70 723.72,1020.77 727.60,1019.80 C731.48,1018.83 735.60,1017.30 737.20,1016.80 V1135.2" fill="none" stroke="#262324" stroke-width="1.40" stroke-linejoin="round" />
<line x1="611.00" y1="1135.20" x2="774.70" y2="1135.20" stroke="#262324" stroke-width="1.30" />
<circle cx="641.80" cy="1041.60" r="9.30" fill="none" stroke="#262324" stroke-width="1.30"/>
<circle cx="641.80" cy="1105.60" r="9.30" fill="none" stroke="#262324" stroke-width="1.30"/>
<circle cx="705.00" cy="1041.60" r="9.30" fill="none" stroke="#262324" stroke-width="1.30"/>
<circle cx="705.00" cy="1105.60" r="9.30" fill="none" stroke="#262324" stroke-width="1.30"/>
<line x1="627.00" y1="1041.60" x2="774.70" y2="1041.60" stroke="#333" stroke-width="0.85" />
<line x1="627.00" y1="1105.60" x2="774.70" y2="1105.60" stroke="#333" stroke-width="0.85" />
<line x1="641.80" y1="1027.00" x2="641.80" y2="1178.00" stroke="#333" stroke-width="0.85" />
<line x1="705.00" y1="1027.00" x2="705.00" y2="1178.00" stroke="#333" stroke-width="0.85" />
<line x1="611.20" y1="1135.20" x2="611.20" y2="1212.80" stroke="#333" stroke-width="0.85" />
<line x1="737.10" y1="1135.20" x2="737.10" y2="1212.80" stroke="#333" stroke-width="0.85" />
<line x1="769.10" y1="1041.60" x2="769.10" y2="1105.60" stroke="#3e3e3e" stroke-width="0.90" />
<path d="M769.10,1041.90 L771.50,1051.40 L766.70,1051.40 Z" fill="#1a1a1a"/>
<path d="M769.10,1105.30 L766.70,1095.80 L771.50,1095.80 Z" fill="#1a1a1a"/>
<text x="754.40" y="1078.79" font-size="18.00" text-anchor="middle" fill="#1c1c1c" >35</text>
<line x1="769.10" y1="1105.60" x2="769.10" y2="1135.20" stroke="#3e3e3e" stroke-width="0.90" />
<path d="M769.10,1105.90 L771.50,1115.40 L766.70,1115.40 Z" fill="#1a1a1a"/>
<path d="M769.10,1134.90 L766.70,1125.40 L771.50,1125.40 Z" fill="#1a1a1a"/>
<text x="753.00" y="1125.19" font-size="18.00" text-anchor="middle" fill="#1c1c1c" >16</text>
<line x1="611.00" y1="1170.40" x2="641.90" y2="1170.40" stroke="#3e3e3e" stroke-width="0.90" />
<path d="M611.30,1170.40 L620.80,1168.00 L620.80,1172.80 Z" fill="#1a1a1a"/>
<path d="M641.60,1170.40 L632.10,1172.80 L632.10,1168.00 Z" fill="#1a1a1a"/>
<line x1="641.90" y1="1170.40" x2="705.00" y2="1170.40" stroke="#3e3e3e" stroke-width="0.90" />
<path d="M642.20,1170.40 L651.70,1168.00 L651.70,1172.80 Z" fill="#1a1a1a"/>
<path d="M704.70,1170.40 L695.20,1172.80 L695.20,1168.00 Z" fill="#1a1a1a"/>
<line x1="705.00" y1="1170.40" x2="737.10" y2="1170.40" stroke="#3e3e3e" stroke-width="0.90" />
<path d="M705.30,1170.40 L714.80,1168.00 L714.80,1172.80 Z" fill="#1a1a1a"/>
<path d="M736.80,1170.40 L727.30,1172.80 L727.30,1168.00 Z" fill="#1a1a1a"/>
<text x="628.40" y="1163.32" font-size="17.20" text-anchor="middle" fill="#1c1c1c" >20</text>
<text x="673.40" y="1165.92" font-size="17.20" text-anchor="middle" fill="#1c1c1c" >40</text>
<text x="721.40" y="1162.72" font-size="17.20" text-anchor="middle" fill="#1c1c1c" >20</text>
<line x1="611.30" y1="1206.50" x2="736.90" y2="1206.50" stroke="#3e3e3e" stroke-width="0.90" />
<path d="M611.60,1206.50 L621.10,1204.10 L621.10,1208.90 Z" fill="#1a1a1a"/>
<path d="M736.60,1206.50 L727.10,1208.90 L727.10,1204.10 Z" fill="#1a1a1a"/>
<text x="679.10" y="1203.22" font-size="17.20" text-anchor="middle" fill="#1c1c1c" >80</text>
<line x1="572.80" y1="1009.20" x2="625.10" y2="1012.50" stroke="#333" stroke-width="0.85" />
<line x1="625.10" y1="1012.50" x2="649.80" y2="1053.40" stroke="#333" stroke-width="0.85" />
<text x="576.01" y="1005.30" font-size="16.80" fill="#1c1c1c" textLength="52.25" lengthAdjust="spacingAndGlyphs">4×Φ13</text>
<text x="626.58" y="1246.70" font-size="14.60" fill="#1b1b1b" stroke="#1b1b1b" stroke-width="0.25" textLength="38.49" lengthAdjust="spacingAndGlyphs">1250</text>
<path d="M666.70,1243.89 C667.58,1242.03 668.42,1242.03 669.30,1243.40 S671.02,1244.78 671.90,1242.91" fill="none" stroke="#1b1b1b" stroke-width="1.30" stroke-linecap="round"/>
<text x="674.52" y="1246.70" font-size="14.60" fill="#1b1b1b" stroke="#1b1b1b" stroke-width="0.25" textLength="48.72" lengthAdjust="spacingAndGlyphs">1600A</text>
</svg>
</div>
</body></html>
